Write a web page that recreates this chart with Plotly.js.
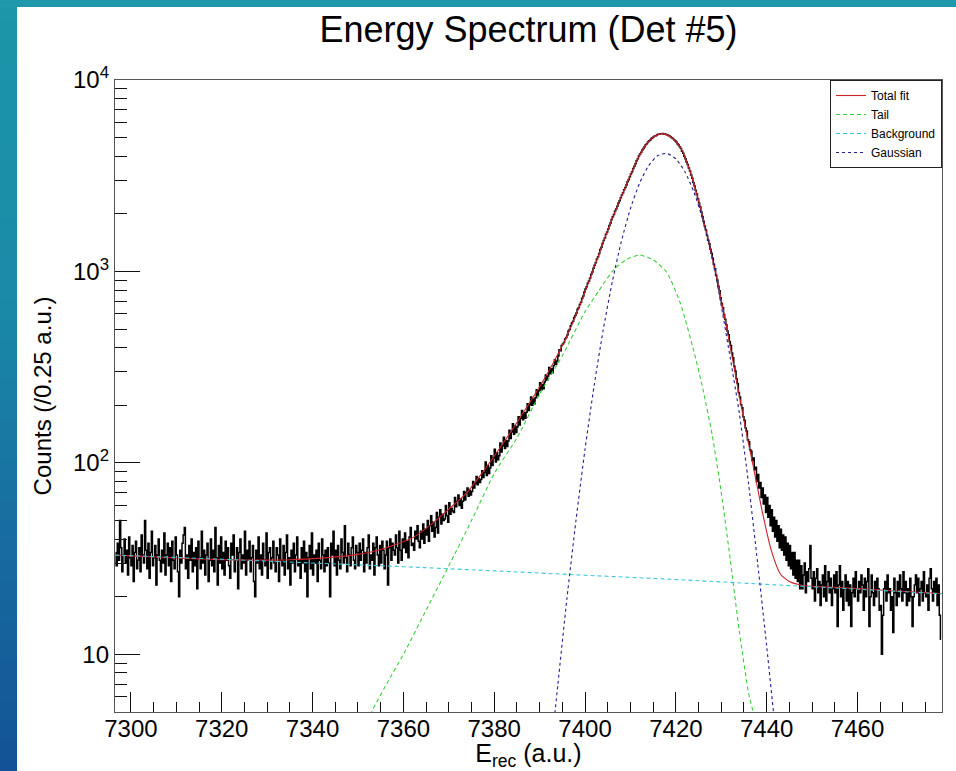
<!DOCTYPE html>
<html><head><meta charset="utf-8">
<script src="https://cdn.plot.ly/plotly-3.0.1.min.js"></script>
<style>html,body{margin:0;padding:0;background:#fff;overflow:hidden;} #chart{width:956px;height:771px;}</style>
</head><body><div id="chart"></div>
<script>
// ---- data ----
const binStart = 7296.5;
const binWidth = 0.25;
const countsLeft = [
34,29,38,31,50,36,27,33,40,30,35,26,41,32,29,37,24,34,39,28,
31,36,27,42,33,30,50,35,28,38,25,34,44,29,32,37,23,33,40,31,
27,35,30,43,26,33,38,29,36,24,39,31,28,41,33,27,20,35,30,38,
42,46,28,33,25,37,31,40,27,34,29,36,22,39,32,28,44,30,35,26,
33,38,24,31,40,29,35,27,46,32,23,37,30,41,28,34,26,39,31,36,
29,25,38,33,42,27,31,36,22,34,40,28,33,30,44,26,35,31,39,27,
32,37,24,20,35,30,41,28,33,26,38,31,29,43,25,34,36,28,32,39,
30,27,36,33,24,40,31,29,37,26,34,42,28,32,23,35,30,38,27,33,
41,29,31,25,36,30,39,27,34,20,32,37,28,43,26,33,30,35,24,38,
31,28,40,33,27,35,29,36,30,20,38,33,44,29,35,26,37,31,28,40,
34,30,47,32,27,38,33,29,36,41,31,28,37,34];
const countsRise = [
29,38,31,35, 40,27,34,30, 36,42,28,33, 31,38,26,36, 41,33,29,37,
30,39,35,28, 33,39,23,36, 40,31,38,35, 33,42,36,30, 44,35,31,40,
36,43,34,39, 32,41,46,37, 38,35,44,40, 47,39,36,44, 40,48,38,45,
42,50,39,47, 53,44,49,41, 46,55,43,52, 57,48,54,50, 51,60,53,49,
62,54,58,56, 55,66,59,63, 68,60,65,58, 63,71,64,70, 74,67,72,68,
71,80,74,78, 85,77,83,79, 82,91,84,89, 101,86,97,88, 94,109,97,106,
118,101,113,104, 109,127,114,123, 136,119,131,122, 130,148,134,145, 160,141,156,144,
154,174,158,171, 188,168,183,171, 184,204,188,201, 221,200,216,204, 219,241,224,238,
262,240,257,244, 265,288,270,284, 315,292,310,296, 322,346,328,341];
const countsPeak = [
362,390,385,410, 418,426,444,452, 465,488,498,520, 538,550,575,588, 606,634,647,673,
690,725,745,780, 809,831,869,892, 924,968,994,1038, 1077,1109,1162,1194, 1240,1301,1339,1400,
1453,1497,1564,1608, 1665,1740,1790,1866, 1930,1985,2066,2120, 2191,2280,2340,2430, 2508,2577,2673,2742,
2829,2937,3013,3121, 3225,3320,3450,3546, 3656,3785,3876,4004, 4110,4190,4312,4390, 4482,4585,4645,4750,
4820,4866,4950,4992, 5048,5102,5122,5180, 5205,5206,5236,5240, 5250,5220,5218,5190, 5178,5125,5101,5046,
4995,4948,4868,4820, 4747,4648,4582,4484, 4394,4250,4140,3996, 3880,3733,3616,3470, 3347,3192,3068,2913,
2793,2655,2541,2401, 2280,2173,2042,1935, 1830,1725,1644,1540, 1457,1394,1308,1243, 1171,1092,1033,954,
902,838,792,728, 680,646,596,562, 526,489,467,431, 410,375,354,320, 302,275,260,233,
221,201,194,174, 167,152,147,132, 129,117,115,103, 106,92,95,80, 87,74,79,66,
74,61,68,55, 66,52,60,47, 57,44,52,41, 50,39,47,36, 45,35,42,33,
41,31,38,29, 37,28,34,26, 34,25,31,24, 31,22,29,22];
const countsRight = [
26,30,21,27, 24,28,37,25, 22,27,19,25, 28,21,24,18, 23,26,20,29,
19,24,27,21, 25,18,22,26, 21,27,14,23, 29,20,24,17, 22,26,19,24,
18,23,14,21, 25,20,27,22, 19,24,21,26, 23,17,25,20, 24,28,14,20,
26,21,18,24, 20,25,22,17, 18,10,16,22, 24,19,26,21, 22,17,20,13,
25,21,18,24, 20,26,22,19, 27,21,24,18, 22,19,25,20, 14,20,23,26,
21,25,18,22, 24,19,27,21, 20,23,17,25, 28,22,19,24, 21,25,18,23,
16,12];

const totalE = [7296.5,7305,7315,7325,7335,7342,7346,7350,7354,7358,7362,7366,7370,7374,7378,7382,7386,7390,7393,7396,7399,7402,7405,7408,7411,7413,7415,7417,7419,7421,7423,7425,7427,7429,7431,7433,7435,7437,7439,7441,7443,7445,7448,7455,7465,7478.5];
const totalFit = [33.0,32.3,31.5,31.1,31.2,31.8,32.4,33.3,34.8,37.3,40.6,47.5,57.4,70,93,127,177,250,333,460,680,1050,1640,2460,3610,4450,5035,5250,5035,4450,3410,2345,1500,925,537,299,166,97,56,35,26.3,24.0,22.9,22.4,21.7,20.8];

const tailE = [7348,7353,7356,7360,7365,7370,7375,7380,7385,7390,7395,7400,7403,7406,7409,7412,7415,7418,7421,7424,7426,7428,7430,7432,7434,7436,7437,7439];
const tailFit = [2.6,5,6.8,10,17,29,50,88,135,229,363,617,790,1000,1150,1218,1150,990,680,380,240,140,70,31,13,6.3,5,2.8];

const bgE = [7296.5,7320,7340,7360,7380,7400,7420,7440,7460,7478.5];
const bgFit = [33.0,31.4,30.0,28.7,27.3,25.9,24.6,23.2,21.9,20.7];

const gaussE = [7392,7394,7396,7398,7400,7402,7404,7406,7408,7410,7412,7414,7416,7418,7420,7422,7424,7426,7428,7430,7432,7434,7436,7438,7440,7442,7444];
const gaussFit = [2.4,6.9,19.5,50,118,253,495,883,1437,2133,2888,3568,4020,4132,3875,3316,2587,1841,1195,660,350,180,78,30,11,3.8,1.2];

const xTickVals = [7300,7320,7340,7360,7380,7400,7420,7440,7460];
const yTickVals = [10,100,1000,10000];
const yTickText = ['10','10<sup>2</sup>','10<sup>3</sup>','10<sup>4</sup>'];
const seriesNames = ['Total fit','Tail','Background','Gaussian'];

// ---- build ----
const counts = countsLeft.concat(countsRise, countsPeak, countsRight);
const binCenters = counts.map((_, i) => binStart + binWidth * (i + 0.5));

const yMinor = [];
[1,10,100,1000].forEach(d => { for (let k = 2; k <= 9; k++) yMinor.push(k * d); });

const W = 956, H = 771, L = 115, R = 14, T = 80, B = 59;
const pw = W - L - R, ph = H - T - B;
const px2x = p => (p - L) / pw;
const py2y = p => (H - B - p) / ph;

const FONT = 'Liberation Sans, Arial, Helvetica, sans-serif';

// slide background strips (gradient approximated by bands)
const shapes = [];
const stops = [[0,[28,150,168]],[300,[26,138,168]],[520,[24,110,160]],[771,[19,82,150]]];
function colAt(y){
  for (let s = 0; s < stops.length - 1; s++) {
    const [y0,c0] = stops[s], [y1,c1] = stops[s+1];
    if (y <= y1) { const t = (y - y0) / (y1 - y0);
      return 'rgb(' + c0.map((c,j) => Math.round(c + (c1[j]-c)*t)).join(',') + ')'; }
  }
  return 'rgb(19,82,150)';
}
const band = 20;
for (let y = 0; y < H; y += band) {
  shapes.push({type:'rect', xref:'paper', yref:'paper', layer:'above',
    x0:px2x(0), x1:px2x(17), y0:py2y(Math.min(H, y + band)), y1:py2y(y),
    fillcolor:colAt(y + band/2), line:{width:0}});
}
shapes.push({type:'rect', xref:'paper', yref:'paper', layer:'above',
  x0:px2x(0), x1:px2x(W), y0:py2y(7), y1:py2y(0), fillcolor:'rgb(30,152,170)', line:{width:0}});

const traces = [
  {x:binCenters, y:counts, type:'scatter', mode:'lines', line:{color:'#000', width:1.5, shape:'hvh'}, showlegend:false, hoverinfo:'skip'},
  {x:totalE, y:totalFit, type:'scatter', mode:'lines', name:seriesNames[0], line:{color:'#cc2229', width:1.1, shape:'spline', smoothing:0.6}},
  {x:tailE, y:tailFit, type:'scatter', mode:'lines', name:seriesNames[1], line:{color:'#3ccf3c', width:1.1, dash:'4px,3px', shape:'spline', smoothing:0.6}},
  {x:bgE, y:bgFit, type:'scatter', mode:'lines', name:seriesNames[2], line:{color:'#3cc8dc', width:1.1, dash:'4px,3px', shape:'spline'}},
  {x:gaussE, y:gaussFit, type:'scatter', mode:'lines', name:seriesNames[3], line:{color:'#1f1f8f', width:1.1, dash:'3px,3px', shape:'spline', smoothing:0.6}}
];

const layout = {
  width:W, height:H,
  margin:{l:L, r:R, t:T, b:B, pad:0},
  paper_bgcolor:'#fff', plot_bgcolor:'#fff',
  font:{family:FONT, color:'#000'},
  title:{text:'Energy Spectrum (Det #5)', font:{size:36, family:FONT, color:'#000'},
         xref:'paper', x:0.5, xanchor:'center', yref:'container', y:1 - 29/H, yanchor:'middle'},
  showlegend:true,
  legend:{x:1, xanchor:'right', y:1, yanchor:'top', bgcolor:'#fff', bordercolor:'#222', borderwidth:1,
          font:{size:12, family:FONT, color:'#000'}, tracegroupgap:0, itemwidth:30},
  xaxis:{range:[7296.5, 7478.6], tickmode:'array', tickvals:xTickVals, ticks:'inside', ticklen:20, tickwidth:1, tickcolor:'#111',
         minor:{tickmode:'linear', tick0:7300, dtick:5, ticks:'inside', ticklen:10, tickwidth:1, tickcolor:'#111'},
         showline:true, mirror:true, linecolor:'#555', linewidth:1.2, showgrid:false, zeroline:false,
         tickfont:{size:24, family:FONT, color:'#000'}, ticklabelstandoff:-5,
         title:{text:'E<sub>rec</sub> (a.u.)', font:{size:25, family:FONT, color:'#000'}, standoff:8}},
  yaxis:{type:'log', range:[Math.log10(5), 4], tickmode:'array', tickvals:yTickVals, ticktext:yTickText,
         ticks:'inside', ticklen:25, tickwidth:1, tickcolor:'#111',
         minor:{tickmode:'array', tickvals:yMinor, ticks:'inside', ticklen:12, tickwidth:1, tickcolor:'#111'},
         showline:true, mirror:true, linecolor:'#555', linewidth:1.2, showgrid:false, zeroline:false,
         tickfont:{size:24, family:FONT, color:'#000'},
         title:{text:'Counts (/0.25 a.u.)', font:{size:24, family:FONT, color:'#000'}, standoff:14}},
  shapes:shapes,
  hovermode:false
};

Plotly.newPlot('chart', traces, layout, {staticPlot:true, displayModeBar:false});
</script>
</body></html>
